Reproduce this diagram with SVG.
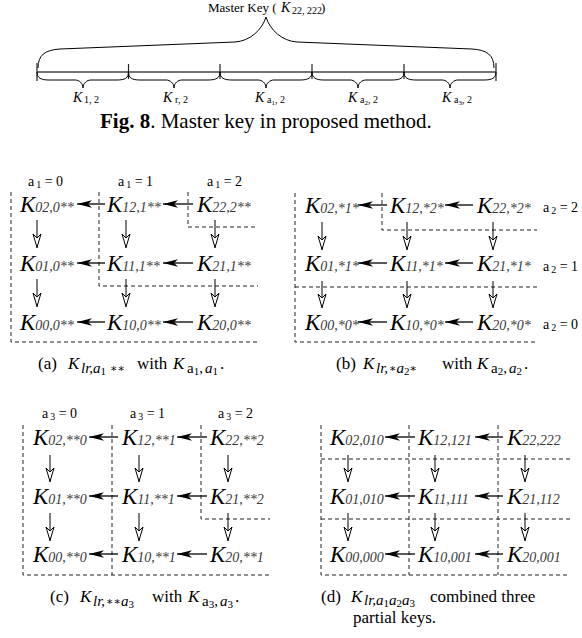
<svg xmlns="http://www.w3.org/2000/svg" width="582" height="638" viewBox="0 0 582 638">
<defs>
<style>
text{font-family:"Liberation Serif","Times New Roman",serif;fill:#000}
.k{font-style:italic;font-size:23px}
.s{font-style:italic;font-size:14px;fill:#3a3a3a}
.t{font-size:13px}
.ti{font-size:14px;font-style:italic}
.sb{font-size:10px}
.ssb{font-size:7px}
.h{font-size:14px}
.hs{font-size:10px}
.cap{font-size:17px}
.i{font-style:italic}
.c13{font-size:15px}
.c10{font-size:11px}
.ast{font-size:11px;font-family:"DejaVu Serif",serif}
.dash{fill:none;stroke:#222;stroke-width:1;stroke-dasharray:4 3}
.ha{stroke:#000;stroke-width:1.3;marker-end:url(#ah)}
.va{stroke:#000;stroke-width:1;marker-end:url(#av)}
.br{fill:none;stroke:#000;stroke-width:1}
</style>
<marker id="ah" viewBox="-16 -5 17 10" refX="0" refY="0" markerWidth="17" markerHeight="10" markerUnits="userSpaceOnUse" orient="auto"><path d="M0,0 L-15,-3.8 L-11,0 L-15,3.8 Z" fill="#000"/></marker>
<marker id="av" viewBox="-15 -6 16 12" refX="0" refY="0" markerWidth="16" markerHeight="12" markerUnits="userSpaceOnUse" orient="auto"><path d="M-0.5,0 L-14,-4 L-10,0 L-14,4 Z" fill="#fff" stroke="#000" stroke-width="1"/></marker>
</defs>

<!-- Top: master key -->
<g id="masterkey">
<text class="t" x="208" y="12">Master Key (<tspan x="281" class="ti" font-size="13px">K</tspan><tspan x="292" class="sb" font-size="8.5px" dy="2">22, 222</tspan><tspan x="321" dy="-2">)</tspan></text>
<path class="br" d="M38,68 C38,55 45,50 60,49 L235,42 C250,41 262,30 266,17 C270,30 282,41 297,42 L472,49 C487,50 494,55 494,68"/>
<line x1="37" y1="72" x2="496" y2="72" stroke="#444" stroke-width="1.5"/>
<g stroke="#222" stroke-width="1.2">
<line x1="37" y1="63" x2="37" y2="81"/>
<line x1="496" y1="63" x2="496" y2="81"/>
<line x1="128.5" y1="64" x2="128.5" y2="79"/>
<line x1="220" y1="64" x2="220" y2="79"/>
<line x1="312" y1="64" x2="312" y2="79"/>
<line x1="404" y1="64" x2="404" y2="79"/>
</g>
<path class="br" d="M37,72 C37,78 41,80 49,80 L75,80 C79,80 83,83 83,88 C83,83 87,80 91,80 L117,80 C125,80 128.5,78 128.5,72"/>
<path class="br" d="M128.5,72 C128.5,78 132,80 140,80 L166,80 C170,80 174,83 174,88 C174,83 178,80 182,80 L208,80 C216,80 220,78 220,72"/>
<path class="br" d="M220,72 C220,78 224,80 232,80 L258,80 C262,80 266,83 266,88 C266,83 270,80 274,80 L300,80 C308,80 312,78 312,72"/>
<path class="br" d="M312,72 C312,78 316,80 324,80 L350,80 C354,80 358,83 358,88 C358,83 362,80 366,80 L392,80 C400,80 404,78 404,72"/>
<path class="br" d="M404,72 C404,78 408,80 416,80 L442,80 C446,80 450,83 450,88 C450,83 454,80 458,80 L484,80 C492,80 496,78 496,72"/>
<text y="102"><tspan x="73" class="ti">K</tspan><tspan x="84" class="sb" dy="1">1, 2</tspan></text>
<text y="102"><tspan x="163" class="ti">K</tspan><tspan x="175" class="sb" dy="1">r, 2</tspan></text>
<text y="102"><tspan x="255" class="ti">K</tspan><tspan x="267" class="sb" dy="1">a</tspan><tspan class="ssb" dy="2">1</tspan><tspan class="sb" dy="-2">, 2</tspan></text>
<text y="102"><tspan x="348" class="ti">K</tspan><tspan x="360" class="sb" dy="1">a</tspan><tspan class="ssb" dy="2">2</tspan><tspan class="sb" dy="-2">, 2</tspan></text>
<text y="102"><tspan x="442" class="ti">K</tspan><tspan x="454" class="sb" dy="1">a</tspan><tspan class="ssb" dy="2">3</tspan><tspan class="sb" dy="-2">, 2</tspan></text>
<text x="100" y="128" font-size="21px"><tspan font-weight="bold">Fig. 8</tspan>. Master key in proposed method.</text>
</g>

<!-- dashed region lines -->
<g id="regions">
<path class="dash" d="M11,192 V342 H258"/>
<path class="dash" d="M99,192 V286 H258"/>
<path class="dash" d="M188,192 V227 H258"/>
<path class="dash" d="M295,193 V342 H537"/>
<path class="dash" d="M382,193 V230 H537"/>
<path class="dash" d="M295,287 H537"/>
<path class="dash" d="M23,425 V575 H270"/>
<path class="dash" d="M112,425 V575"/>
<path class="dash" d="M201,425 V519 H270"/>
<path class="dash" d="M321,425 V575 H570"/>
<path class="dash" d="M409,425 V575"/>
<path class="dash" d="M498,425 V575"/>
<path class="dash" d="M321,459 H570"/>
<path class="dash" d="M321,519 H570"/>
</g>

<!-- connectors -->
<g id="connectors">
<line class="ha" x1="105" y1="204" x2="77" y2="204"/><line class="ha" x1="193" y1="204" x2="163" y2="204"/>
<line class="ha" x1="105" y1="263" x2="77" y2="263"/><line class="ha" x1="193" y1="263" x2="163" y2="263"/>
<line class="ha" x1="105" y1="322" x2="77" y2="322"/><line class="ha" x1="193" y1="322" x2="163" y2="322"/>
<line class="va" x1="37" y1="220" x2="37" y2="248"/><line class="va" x1="126" y1="220" x2="126" y2="248"/><line class="va" x1="215" y1="220" x2="215" y2="248"/>
<line class="va" x1="37" y1="279" x2="37" y2="307"/><line class="va" x1="126" y1="279" x2="126" y2="307"/><line class="va" x1="215" y1="279" x2="215" y2="307"/>

<line class="ha" x1="387" y1="205" x2="358" y2="205"/><line class="ha" x1="473" y1="205" x2="445" y2="205"/>
<line class="ha" x1="387" y1="263" x2="358" y2="263"/><line class="ha" x1="473" y1="263" x2="445" y2="263"/>
<line class="ha" x1="387" y1="322" x2="358" y2="322"/><line class="ha" x1="473" y1="322" x2="445" y2="322"/>
<line class="va" x1="322" y1="222" x2="322" y2="250"/><line class="va" x1="407" y1="222" x2="407" y2="250"/><line class="va" x1="493" y1="222" x2="493" y2="250"/>
<line class="va" x1="322" y1="281" x2="322" y2="308"/><line class="va" x1="407" y1="281" x2="407" y2="308"/><line class="va" x1="493" y1="281" x2="493" y2="308"/>

<line class="ha" x1="118" y1="437" x2="89" y2="437"/><line class="ha" x1="207" y1="437" x2="177" y2="437"/>
<line class="ha" x1="118" y1="496" x2="89" y2="496"/><line class="ha" x1="207" y1="496" x2="177" y2="496"/>
<line class="ha" x1="118" y1="554" x2="89" y2="554"/><line class="ha" x1="207" y1="554" x2="177" y2="554"/>
<line class="va" x1="50" y1="455" x2="50" y2="482"/><line class="va" x1="139" y1="455" x2="139" y2="482"/><line class="va" x1="228" y1="455" x2="228" y2="482"/>
<line class="va" x1="50" y1="513" x2="50" y2="541"/><line class="va" x1="139" y1="513" x2="139" y2="541"/><line class="va" x1="228" y1="513" x2="228" y2="541"/>

<line class="ha" x1="415" y1="437" x2="385" y2="437"/><line class="ha" x1="503" y1="437" x2="475" y2="437"/>
<line class="ha" x1="415" y1="496" x2="385" y2="496"/><line class="ha" x1="503" y1="496" x2="475" y2="496"/>
<line class="ha" x1="415" y1="554" x2="385" y2="554"/><line class="ha" x1="503" y1="554" x2="475" y2="554"/>
<line class="va" x1="348" y1="455" x2="348" y2="482"/><line class="va" x1="435" y1="455" x2="435" y2="482"/><line class="va" x1="525" y1="455" x2="525" y2="482"/>
<line class="va" x1="348" y1="513" x2="348" y2="541"/><line class="va" x1="435" y1="513" x2="435" y2="541"/><line class="va" x1="525" y1="513" x2="525" y2="541"/>
</g>

<!-- panel a -->
<g id="panel-a">
<text class="h" x="28" y="186">a<tspan class="hs" dx="2" dy="2">1</tspan><tspan dy="-2"> = 0</tspan></text>
<text class="h" x="118" y="186">a<tspan class="hs" dx="2" dy="2">1</tspan><tspan dy="-2"> = 1</tspan></text>
<text class="h" x="207" y="186">a<tspan class="hs" dx="2" dy="2">1</tspan><tspan dy="-2"> = 2</tspan></text>
<g id="a02"><text class="k" x="20" y="212">K<tspan class="s">02,0**</tspan></text></g>
<g id="a12"><text class="k" x="107" y="212">K<tspan class="s">12,1**</tspan></text></g>
<g id="a22"><text class="k" x="197" y="212">K<tspan class="s">22,2**</tspan></text></g>
<g id="a01"><text class="k" x="20" y="271">K<tspan class="s">01,0**</tspan></text></g>
<g id="a11"><text class="k" x="107" y="271">K<tspan class="s">11,1**</tspan></text></g>
<g id="a21"><text class="k" x="197" y="271">K<tspan class="s">21,1**</tspan></text></g>
<g id="a00"><text class="k" x="20" y="330">K<tspan class="s">00,0**</tspan></text></g>
<g id="a10"><text class="k" x="107" y="330">K<tspan class="s">10,0**</tspan></text></g>
<g id="a20"><text class="k" x="197" y="330">K<tspan class="s">20,0**</tspan></text></g>
<text class="cap" y="369"><tspan x="38">(a)</tspan><tspan x="68" class="i">K</tspan><tspan x="81" dy="4" class="c13 i">lr,a</tspan><tspan dy="2" class="c10">1</tspan><tspan x="110" dy="-3" class="ast">∗∗</tspan><tspan x="137" dy="-3">with</tspan><tspan x="173" class="i">K</tspan><tspan x="187" dy="4" class="c13">a</tspan><tspan dy="2" class="c10">1</tspan><tspan dy="-2" class="c13">,</tspan><tspan dx="2" class="c13 i">a</tspan><tspan dy="2" class="c10">1</tspan><tspan dx="2" dy="-6">.</tspan></text>
</g>

<!-- panel b -->
<g id="panel-b">
<g id="b02"><text class="k" x="305" y="213">K<tspan class="s">02,*1*</tspan></text></g>
<g id="b12"><text class="k" x="390" y="213">K<tspan class="s">12,*2*</tspan></text></g>
<g id="b22"><text class="k" x="477" y="213">K<tspan class="s">22,*2*</tspan></text></g>
<g id="b01"><text class="k" x="305" y="271">K<tspan class="s">01,*1*</tspan></text></g>
<g id="b11"><text class="k" x="390" y="271">K<tspan class="s">11,*1*</tspan></text></g>
<g id="b21"><text class="k" x="477" y="271">K<tspan class="s">21,*1*</tspan></text></g>
<g id="b00"><text class="k" x="305" y="330">K<tspan class="s">00,*0*</tspan></text></g>
<g id="b10"><text class="k" x="390" y="330">K<tspan class="s">10,*0*</tspan></text></g>
<g id="b20"><text class="k" x="477" y="330">K<tspan class="s">20,*0*</tspan></text></g>
<text class="h" x="543" y="212">a<tspan class="hs" dx="2" dy="2">2</tspan><tspan dy="-2"> = 2</tspan></text>
<text class="h" x="543" y="271">a<tspan class="hs" dx="2" dy="2">2</tspan><tspan dy="-2"> = 1</tspan></text>
<text class="h" x="543" y="329">a<tspan class="hs" dx="2" dy="2">2</tspan><tspan dy="-2"> = 0</tspan></text>
<text class="cap" y="369"><tspan x="336">(b)</tspan><tspan x="363" class="i">K</tspan><tspan x="376" dy="4" class="c13 i">lr,</tspan><tspan dx="1" dy="-1" class="ast">∗</tspan><tspan dy="1" class="c13 i">a</tspan><tspan dy="2" class="c10">2</tspan><tspan dy="-3" class="ast">∗</tspan><tspan x="442" dy="-3">with</tspan><tspan x="477" class="i">K</tspan><tspan x="491" dy="4" class="c13">a</tspan><tspan dy="2" class="c10">2</tspan><tspan dy="-2" class="c13">,</tspan><tspan dx="2" class="c13 i">a</tspan><tspan dy="2" class="c10">2</tspan><tspan dx="2" dy="-6">.</tspan></text>
</g>

<!-- panel c -->
<g id="panel-c">
<text class="h" x="42" y="418">a<tspan class="hs" dx="2" dy="2">3</tspan><tspan dy="-2"> = 0</tspan></text>
<text class="h" x="130" y="418">a<tspan class="hs" dx="2" dy="2">3</tspan><tspan dy="-2"> = 1</tspan></text>
<text class="h" x="218" y="418">a<tspan class="hs" dx="2" dy="2">3</tspan><tspan dy="-2"> = 2</tspan></text>
<g id="c02"><text class="k" x="33" y="445">K<tspan class="s">02,**0</tspan></text></g>
<g id="c12"><text class="k" x="122" y="445">K<tspan class="s">12,**1</tspan></text></g>
<g id="c22"><text class="k" x="210" y="445">K<tspan class="s">22,**2</tspan></text></g>
<g id="c01"><text class="k" x="33" y="504">K<tspan class="s">01,**0</tspan></text></g>
<g id="c11"><text class="k" x="122" y="504">K<tspan class="s">11,**1</tspan></text></g>
<g id="c21"><text class="k" x="210" y="504">K<tspan class="s">21,**2</tspan></text></g>
<g id="c00"><text class="k" x="33" y="562">K<tspan class="s">00,**0</tspan></text></g>
<g id="c10"><text class="k" x="122" y="562">K<tspan class="s">10,**1</tspan></text></g>
<g id="c20"><text class="k" x="210" y="562">K<tspan class="s">20,**1</tspan></text></g>
<text class="cap" y="602"><tspan x="50">(c)</tspan><tspan x="80" class="i">K</tspan><tspan x="93" dy="4" class="c13 i">lr,</tspan><tspan dx="1" dy="-1" class="ast">∗∗</tspan><tspan dy="1" class="c13 i">a</tspan><tspan dy="2" class="c10">3</tspan><tspan x="152" dy="-6">with</tspan><tspan x="188" class="i">K</tspan><tspan x="202" dy="4" class="c13">a</tspan><tspan dy="2" class="c10">3</tspan><tspan dy="-2" class="c13">,</tspan><tspan dx="2" class="c13 i">a</tspan><tspan dy="2" class="c10">3</tspan><tspan dx="2" dy="-6">.</tspan></text>
</g>

<!-- panel d -->
<g id="panel-d">
<g id="d02"><text class="k" x="330" y="445">K<tspan class="s">02,010</tspan></text></g>
<g id="d12"><text class="k" x="418" y="445">K<tspan class="s">12,121</tspan></text></g>
<g id="d22"><text class="k" x="507" y="445">K<tspan class="s">22,222</tspan></text></g>
<g id="d01"><text class="k" x="330" y="504">K<tspan class="s">01,010</tspan></text></g>
<g id="d11"><text class="k" x="418" y="504">K<tspan class="s">11,111</tspan></text></g>
<g id="d21"><text class="k" x="507" y="504">K<tspan class="s">21,112</tspan></text></g>
<g id="d00"><text class="k" x="330" y="562">K<tspan class="s">00,000</tspan></text></g>
<g id="d10"><text class="k" x="418" y="562">K<tspan class="s">10,001</tspan></text></g>
<g id="d20"><text class="k" x="507" y="562">K<tspan class="s">20,001</tspan></text></g>
<text class="cap" y="602"><tspan x="321">(d)</tspan><tspan x="351" class="i">K</tspan><tspan x="364" dy="3" class="c13 i">lr,a</tspan><tspan dy="2" class="c10">1</tspan><tspan dy="-2" class="c13 i">a</tspan><tspan dy="2" class="c10">2</tspan><tspan dy="-2" class="c13 i">a</tspan><tspan dy="2" class="c10">3</tspan><tspan x="430" dy="-5">combined three</tspan></text>
<text class="cap" x="353" y="623">partial keys.</text>
</g>
</svg>
